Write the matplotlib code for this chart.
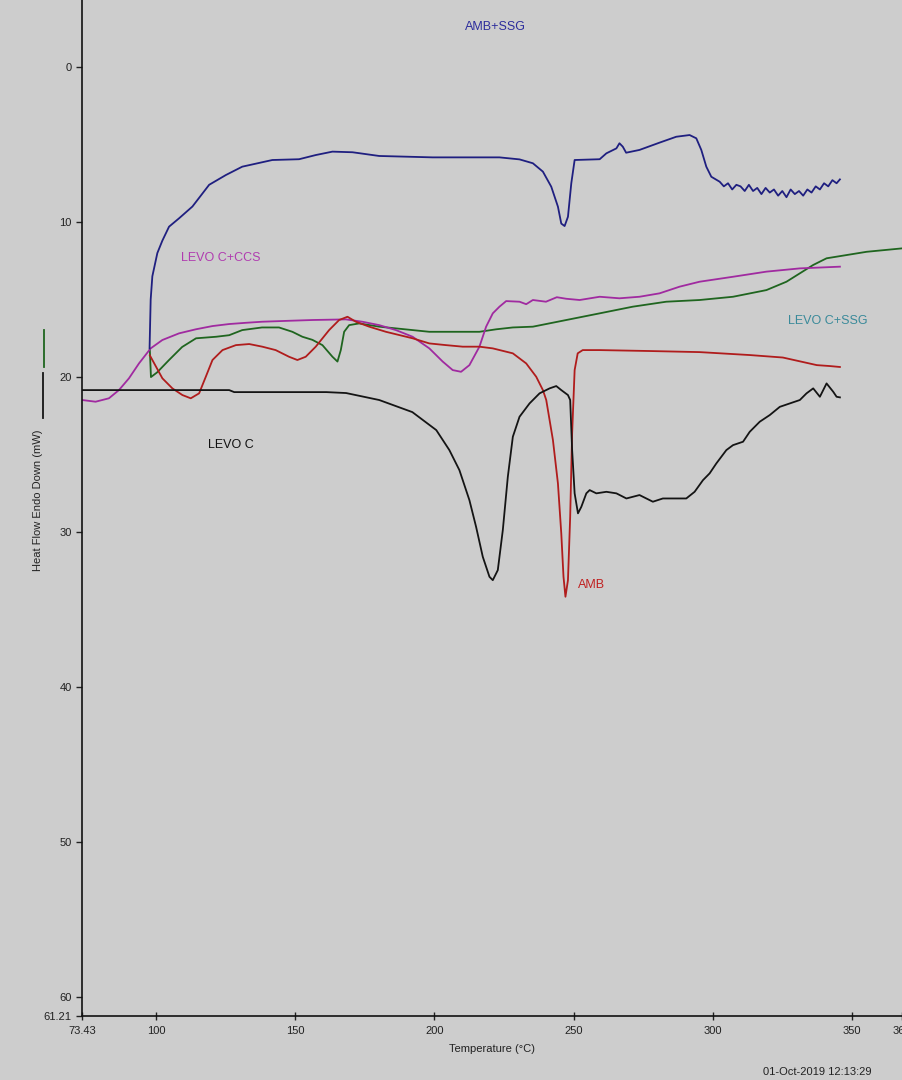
import matplotlib
matplotlib.use("Agg")
import matplotlib.pyplot as plt
from matplotlib.lines import Line2D

plt.rcParams['font.family'] = ['Liberation Sans', 'DejaVu Sans']

BG = '#cdcdcd'

# AMB+SSG (blue)
amb_ssg_t = [97.7, 98.1, 98.7, 100.5, 102.3, 104.7, 108.3, 113.1, 119.1, 125.1, 131.0,
             141.8, 151.4, 157.4, 163.4, 170.6, 180.2, 199.4, 223.4, 230.6, 235.4, 239.0,
             242.0, 244.4, 245.6, 246.8, 248.0, 249.2, 250.4, 259.4, 261.8, 265.4, 266.5,
             267.7, 268.9, 273.7, 280.9, 286.9, 291.7, 294.1, 295.9, 297.7, 299.5,
             302.5, 304.0, 305.5, 307.0, 308.5, 310.0, 311.5, 313.0, 314.5, 316.0, 317.5,
             319.0, 320.5, 322.0, 323.5, 325.0, 326.5, 328.0, 329.5, 331.0, 332.5, 334.0,
             335.5, 337.0, 338.5, 340.0, 341.5, 343.0, 344.5, 345.7]
amb_ssg_mw = [18.15, 15.0, 13.5, 12.0, 11.2, 10.3, 9.76, 9.0, 7.6, 6.97, 6.43,
              6.0, 5.95, 5.68, 5.46, 5.5, 5.74, 5.83, 5.83, 5.96, 6.21, 6.75,
              7.72, 9.01, 10.1, 10.26, 9.66, 7.5, 6.0, 5.95, 5.57, 5.25, 4.92,
              5.14, 5.53, 5.35, 4.88, 4.5, 4.39, 4.6, 5.35, 6.43, 7.08,
              7.4, 7.7, 7.5, 7.9, 7.6, 7.7, 8.0, 7.6, 8.0, 7.8, 8.2,
              7.8, 8.1, 7.9, 8.3, 8.0, 8.4, 7.9, 8.2, 8.0, 8.3, 7.9,
              8.1, 7.7, 7.9, 7.5, 7.7, 7.3, 7.5, 7.25]

# LEVO C+SSG (green)
levo_ssg_t = [97.8, 98.2, 100.4, 104.7, 109.4, 114.4, 121.6, 126.3, 131.0, 138.1, 144.2,
              149.0, 152.6, 156.2, 159.8, 163.4, 165.2, 166.4, 167.6, 169.4, 173.0, 180.2,
              186.2, 192.2, 198.2, 204.2, 210.2, 216.2, 222.2, 228.2, 235.4, 247.4, 259.4,
              271.3, 283.3, 295.3, 307.3, 319.3, 326.5, 331.3, 336.1, 340.9, 348.1, 355.3,
              368.0]
levo_ssg_mw = [18.26, 20.0, 19.7, 18.9, 18.06, 17.5, 17.4, 17.3, 16.97, 16.8, 16.8,
               17.08, 17.4, 17.6, 17.94, 18.69, 19.0, 18.26, 17.08, 16.65, 16.54, 16.75,
               16.86, 16.97, 17.08, 17.08, 17.08, 17.08, 16.92, 16.8, 16.75, 16.32, 15.89,
               15.46, 15.14, 15.03, 14.82, 14.39, 13.85, 13.31, 12.77, 12.34, 12.13, 11.92,
               11.7]

# LEVO C+CCS (magenta)
levo_ccs_t = [73.5, 78.3, 83.1, 86.7, 90.3, 93.9, 98.1, 102.3, 108.3, 114.3, 120.3, 126.3,
              132.3, 138.2, 147.8, 156.2, 168.2, 174.1, 180.2, 186.2, 192.2, 198.2, 203.0,
              206.6, 209.6, 212.6, 216.2, 218.6, 221.0, 223.4, 225.8, 230.6, 233.0, 235.4,
              240.1, 244.0, 247.4, 252.2, 259.4, 266.5, 273.7, 280.9, 288.1, 295.3, 307.3,
              319.3, 331.3, 345.7]
levo_ccs_mw = [21.48, 21.59, 21.37, 20.84, 20.08, 19.12, 18.15, 17.61, 17.18, 16.92, 16.71,
               16.58, 16.5, 16.43, 16.37, 16.32, 16.28, 16.43, 16.65, 16.97, 17.4, 18.15,
               19.0, 19.55, 19.66, 19.23, 18.04, 16.75, 15.89, 15.46, 15.1, 15.14, 15.3,
               15.03, 15.14, 14.85, 14.95, 15.03, 14.82, 14.92, 14.82, 14.6, 14.17, 13.85,
               13.53, 13.2, 12.99, 12.88]

# AMB (red)
amb_t = [97.8, 102.3, 105.9, 109.5, 112.5, 115.5, 117.9, 120.3, 123.9, 128.7, 133.5,
         138.2, 143.0, 147.8, 150.8, 153.8, 157.4, 162.2, 165.8, 168.8, 171.8, 176.6,
         182.6, 192.2, 198.2, 204.2, 210.2, 216.2, 221.0, 228.2, 233.0, 236.6, 239.0,
         240.2, 242.6, 244.4, 245.6, 246.4, 247.1, 248.0, 248.8, 249.5, 250.4, 251.5,
         253.3, 259.4, 277.3, 295.3, 313.3, 325.2, 337.4, 342.1, 345.7]
amb_mw = [18.6, 20.08, 20.73, 21.16, 21.37, 21.05, 19.98, 18.9, 18.26, 17.94, 17.87,
          18.04, 18.26, 18.69, 18.9, 18.69, 18.04, 16.97, 16.32, 16.11, 16.43, 16.75,
          17.08, 17.5, 17.83, 17.94, 18.04, 18.04, 18.15, 18.47, 19.12, 19.98, 20.84,
          21.48, 24.06, 26.86, 30.08, 32.88, 34.17, 33.1, 29.01, 23.63, 19.55, 18.47,
          18.26, 18.26, 18.32, 18.39, 18.58, 18.74, 19.23, 19.29, 19.35]

# LEVO C (black)
levo_t = [73.43, 126.3, 128.1, 161.2, 168.3, 180.2, 192.1, 200.7, 205.4, 209.0, 212.6,
          215.0, 217.4, 219.8, 221.0, 222.8, 224.6, 226.4, 228.2, 230.6, 234.2, 237.8,
          241.4, 243.8, 245.6, 248.0, 248.8, 249.5, 250.4, 251.6, 252.8, 254.6, 255.8,
          258.2, 261.8, 265.4, 269.0, 273.7, 278.5, 282.1, 286.9, 290.5, 293.5, 296.5,
          298.9, 301.3, 304.9, 307.3, 310.9, 313.3, 316.9, 320.5, 324.1, 327.7, 331.3,
          333.7, 336.1, 338.5, 340.9, 343.3, 344.5, 345.7]
levo_mw = [20.84, 20.84, 20.97, 20.97, 21.03, 21.48, 22.26, 23.42, 24.71, 26.0, 27.94,
           29.66, 31.59, 32.88, 33.1, 32.45, 29.87, 26.43, 23.85, 22.56, 21.7, 21.05,
           20.73, 20.58, 20.84, 21.16, 21.48, 24.71, 27.5, 28.79, 28.37, 27.5, 27.29,
           27.5, 27.4, 27.5, 27.83, 27.61, 28.04, 27.83, 27.83, 27.83, 27.4, 26.65,
           26.21, 25.57, 24.71, 24.39, 24.17, 23.53, 22.88, 22.45, 21.92, 21.7, 21.48,
           21.05, 20.73, 21.27, 20.41, 20.95, 21.27, 21.31]

x_ticks = [73.43, 100, 150, 200, 250, 300, 350, 368]
x_labels = ['73.43', '100', '150', '200', '250', '300', '350', '368']
y_ticks = [0, 10, 20, 30, 40, 50, 60, 61.21]
y_labels = ['0', '10', '20', '30', '40', '50', '60', '61.21']

fig = plt.figure(figsize=(9.02, 10.8), dpi=100, facecolor=BG)
ax = fig.add_axes([82 / 902, 64 / 1080, 820 / 902, 1016 / 1080], facecolor=BG)

lw = 1.3
ax.plot(levo_ssg_t, levo_ssg_mw, color='#1f651f', lw=lw)
ax.plot(levo_ccs_t, levo_ccs_mw, color='#a02aa0', lw=lw)
ax.plot(amb_t, amb_mw, color='#b01c1c', lw=lw)
ax.plot(levo_t, levo_mw, color='#141414', lw=lw)
ax.plot(amb_ssg_t, amb_ssg_mw, color='#1f1f80', lw=lw)

ax.set_xlim(73.43, 368)
ax.set_ylim(61.21, -4.32)

for side in ('top', 'right'):
    ax.spines[side].set_visible(False)
for side in ('left', 'bottom'):
    ax.spines[side].set_color('#111111')
    ax.spines[side].set_linewidth(1.2)

ax.set_xticks(x_ticks)
ax.set_xticklabels(x_labels)
ax.set_yticks(y_ticks)
ax.set_yticklabels(y_labels)
ax.tick_params(axis='both', labelsize=8, colors='#222222', direction='out', length=4, width=1)
ax.tick_params(axis='x', direction='inout', length=6, pad=4)

ax.set_xlabel('Temperature (°C)', fontsize=8, color='#222222', labelpad=6)

# curve names
ax.text(221.9, -2.6, 'AMB+SSG', fontsize=9, color='#2c2c9c', ha='center', va='center')
ax.text(123.4, 12.3, 'LEVO C+CCS', fontsize=9, color='#b03cb0', ha='center', va='center')
ax.text(341.5, 16.4, 'LEVO C+SSG', fontsize=9, color='#3a8a9a', ha='center', va='center')
ax.text(127.0, 24.4, 'LEVO C', fontsize=9, color='#111111', ha='center', va='center')
ax.text(256.3, 33.4, 'AMB', fontsize=9, color='#c02020', ha='center', va='center')

# y label with line markers for the two reference curves
fig.text(38 / 902, 1 - 500 / 1080, 'Heat Flow Endo Down (mW)', rotation=90,
         fontsize=8, color='#222222', ha='center', va='center')
fig.add_artist(Line2D([44 / 902, 44 / 902], [1 - 330 / 1080, 1 - 367 / 1080],
                      color='#1f651f', lw=1.3))
fig.add_artist(Line2D([43 / 902, 43 / 902], [1 - 373 / 1080, 1 - 418 / 1080],
                      color='#141414', lw=1.3))

fig.text(817 / 902, 1 - 1072 / 1080, '01-Oct-2019 12:13:29', fontsize=8,
         color='#222222', ha='center', va='center')

fig.savefig('out.png', dpi=100, facecolor=BG)
